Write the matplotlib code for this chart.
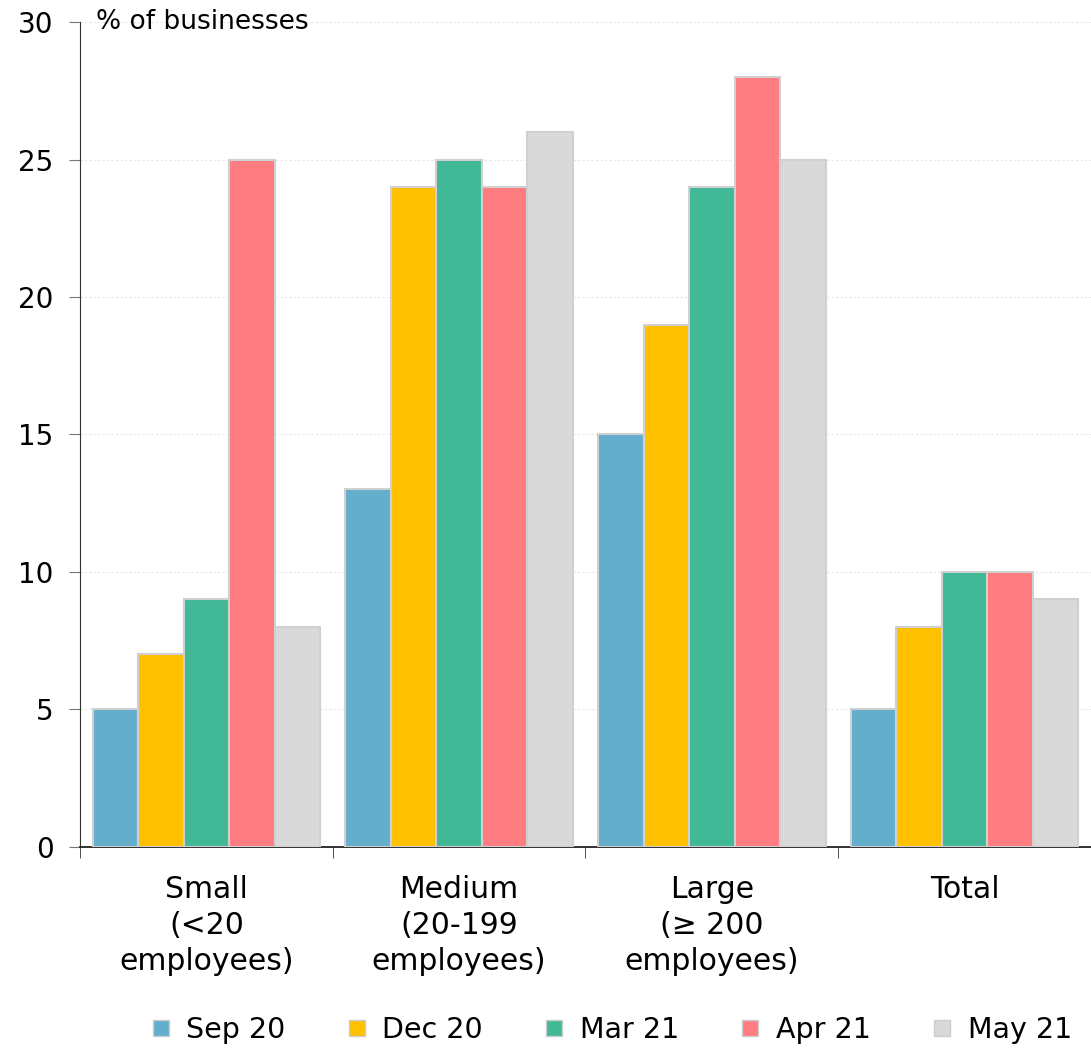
import numpy as np
import matplotlib
matplotlib.use("Agg")
import matplotlib.pyplot as plt

# data (% of businesses)
categories = ["Small\n(<20\nemployees)", "Medium\n(20-199\nemployees)",
              "Large\n(≥ 200\nemployees)", "Total"]
series_names = ["Sep 20", "Dec 20", "Mar 21", "Apr 21", "May 21"]
sep20 = [5, 13, 15, 5]
dec20 = [7, 24, 19, 8]
mar21 = [9, 25, 24, 10]
apr21 = [25, 24, 28, 10]
may21 = [8, 26, 25, 9]
colors = ["#63AECC", "#FFC000", "#41B996", "#FF7C80", "#D9D9D9"]

plt.rcParams['font.family'] = ['DejaVu Sans']

fig = plt.figure(figsize=(10.91, 10.49), dpi=100)
ax = fig.add_axes([0.0733, 0.1926, 0.9267, 0.7864])

x = np.arange(len(categories))
width = 0.18
all_series = [sep20, dec20, mar21, apr21, may21]
for i, vals in enumerate(all_series):
    ax.bar(x + (i - 2) * width, vals, width, color=colors[i],
           edgecolor="#D0D0D0", linewidth=1.5, label=series_names[i], zorder=3)

ax.set_xlim(-0.5, 3.5)
ax.set_ylim(0, 30)
ax.set_yticks([0, 5, 10, 15, 20, 25, 30])
ax.tick_params(axis='y', labelsize=20, length=8, color="#777777", pad=11)
ax.yaxis.grid(True, color="#E6E6E6", linestyle=(0, (2, 2)), linewidth=0.8, zorder=0)

ax.set_xticks(x)
ax.set_xticklabels(categories, fontsize=21.5, linespacing=1.3)
ax.tick_params(axis='x', which='major', length=0, pad=20)
ax.set_xticks([0.5, 1.5, 2.5, -0.5], minor=True)
ax.tick_params(axis='x', which='minor', length=8, color="#333333")

for s in ["top", "right"]:
    ax.spines[s].set_visible(False)
ax.spines["left"].set_color("#333333")
ax.spines["bottom"].set_color("#222222")
ax.spines["bottom"].set_linewidth(1.3)

ax.text(0.016, 30, "% of businesses", fontsize=19, va='center', ha='left',
        transform=ax.get_yaxis_transform())

handles = [plt.Line2D([], [], marker='s', linestyle='none', markersize=12,
                      markerfacecolor=c, markeredgecolor="#CCCCCC")
           for c in colors]
fig.legend(handles, series_names, loc='center', bbox_to_anchor=(0.557, 0.018),
           ncol=5, frameon=False, fontsize=20.5, handletextpad=0.3,
           handlelength=1.2, columnspacing=1.9)

fig.savefig("out.png", dpi=100)
